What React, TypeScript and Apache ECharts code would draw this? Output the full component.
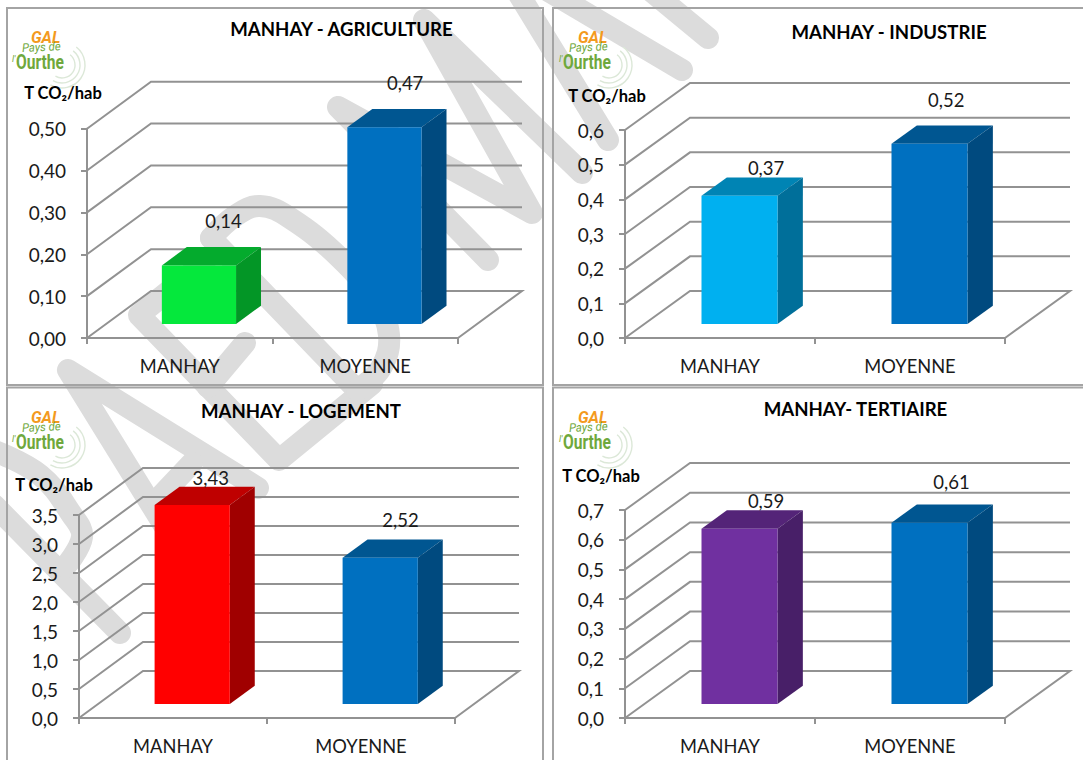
import React, { useEffect, useRef } from "react";
import * as echarts from "echarts";

const FONT = "Lato, Carlito, sans-serif";
const GRID_COLOR = "#929292";
const categories = ["MANHAY", "MOYENNE"];

const agricultureValues = [0.14, 0.47];
const industrieValues = [0.37, 0.52];
const logementValues = [3.43, 2.52];
const tertiaireValues = [0.59, 0.61];

const agricultureTicks = [0, 0.1, 0.2, 0.3, 0.4, 0.5];
const industrieTicks = [0, 0.1, 0.2, 0.3, 0.4, 0.5, 0.6];
const logementTicks = [0, 0.5, 1, 1.5, 2, 2.5, 3, 3.5];
const tertiaireTicks = [0, 0.1, 0.2, 0.3, 0.4, 0.5, 0.6, 0.7];

const titles = ["MANHAY - AGRICULTURE", "MANHAY - INDUSTRIE", "MANHAY - LOGEMENT", "MANHAY- TERTIAIRE"];
const unit = "T CO₂/hab";

const BLUE = { front: "#0070c0", top: "#005691", side: "#004a7f" };
const panels = [
  {
    title: titles[0], values: agricultureValues, ticks: agricultureTicks, interval: 0.1, digits: 2,
    grid: { left: 87, top: 128.7, width: 371, height: 209.3 }, depth: [64, -47],
    titlePos: [341.5, 30], unitPos: [-24, 27],
    colors: [{ front: "#05e83c", top: "#04ab2d", side: "#039626" }, BLUE],
    labelDx: [24.5, 20.7], labelDy: [-44, -44],
  },
  {
    title: titles[1], values: industrieValues, ticks: industrieTicks, interval: 0.1, digits: 1,
    grid: { left: 625, top: 130, width: 380, height: 208 }, depth: [65, -47],
    titlePos: [889, 33], unitPos: [-18, 26],
    colors: [{ front: "#00b0f0", top: "#0084b4", side: "#006f9a" }, BLUE],
    labelDx: [26.6, 16.7], labelDy: [-28, -44],
  },
  {
    title: titles[2], values: logementValues, ticks: logementTicks, interval: 0.5, digits: 1,
    grid: { left: 79, top: 515, width: 376, height: 203 }, depth: [64, -47],
    titlePos: [301, 412], unitPos: [-25, 22],
    colors: [{ front: "#ff0000", top: "#bf0000", side: "#a00000" }, BLUE],
    labelDx: [18.6, 20.3], labelDy: [-27.3, -37.4],
  },
  {
    title: titles[3], values: tertiaireValues, ticks: tertiaireTicks, interval: 0.1, digits: 1,
    grid: { left: 625, top: 510, width: 380, height: 208 }, depth: [65, -47],
    titlePos: [855.5, 410], unitPos: [-24, 26],
    colors: [{ front: "#7030a0", top: "#542478", side: "#481f68" }, BLUE],
    labelDx: [26.6, 22], labelDy: [-27.3, -41],
  },
];

// Watermark strokes
const watermarkStraight = [
  [[488, 260], [338, 107], [532, 213], [424, 20], [582, 173]],
  [[515, -12], [608, 140]],
  [[540, -14], [682, 70]],
  [[645, -14], [708, 38]],
  [[258, 488], [68, 370], [170, 535]],
  [[192, 463], [157, 500]],
  [[205, 262], [139, 315], [279, 460], [372, 384]],
  [[208, 387], [245, 343]],
  [[211, 238], [357, 390]],
  [[-6, 505], [120, 633]],
];
const watermarkCurved = [
  [[211, 238], [235, 216], [260, 206], [290, 218], [340, 258], [375, 300], [389, 335], [381, 368], [357, 390]],
  [[-8, 450], [40, 475], [72, 515], [82, 537], [65, 567]],
];

function logo(ox: number, oy: number) {
  const arcs = [13, 18, 23].map((r) => ({
    type: "arc",
    shape: { cx: 62, cy: 65, r, startAngle: -0.9, endAngle: 2.1, clockwise: true },
    style: { stroke: "#dce8d8", lineWidth: 1.4, fill: "none" },
  }));
  return {
    type: "group", x: ox, y: oy, silent: true,
    children: [
      ...arcs,
      { type: "text", x: 31, y: 37, style: { text: "GAL", fill: "#f39a1e", font: "italic bold 16px Roboto", textVerticalAlign: "middle" } },
      { type: "text", x: 22, y: 48, rotation: 0.05, scaleX: 0.95, style: { text: "Pays de", fill: "#6fa83c", font: "italic 12px Roboto", textVerticalAlign: "middle" } },
      { type: "text", x: 12, y: 59, style: { text: "l'", fill: "#6fa83c", font: "italic 9px Roboto", textVerticalAlign: "middle" } },
      { type: "text", x: 16, y: 62, scaleX: 0.78, style: { text: "Ourthe", fill: "#6fa83c", font: "bold 20px Roboto", textVerticalAlign: "middle" } },
    ],
  };
}

function buildOption() {
  const grid: any[] = [];
  const xAxis: any[] = [];
  const yAxis: any[] = [];
  const series: any[] = [];
  const title: any[] = [];

  panels.forEach((p, k) => {
    const [dx, dy] = p.depth;
    grid.push({ ...p.grid, containLabel: false });
    title.push({
      text: p.title, left: p.titlePos[0], top: p.titlePos[1] - 11, textAlign: "center", padding: 0,
      textStyle: { fontFamily: FONT, fontWeight: "bold", fontSize: 18.6, color: "#000", lineHeight: 20 },
    });
    const axisLine = { show: true, lineStyle: { color: GRID_COLOR, width: 2 } };
    const axisTick = { show: true, length: 6, lineStyle: { color: GRID_COLOR, width: 2 } };
    xAxis.push({
      type: "category", gridIndex: k, data: categories, axisLine, axisTick,
      axisLabel: { margin: 19, fontFamily: FONT, fontSize: 18.3, color: "#1a1a1a" },
      splitLine: { show: false },
    });
    yAxis.push({
      type: "value", gridIndex: k, min: 0, max: p.ticks[p.ticks.length - 1], interval: p.interval,
      axisLine, axisTick, splitLine: { show: false },
      axisLabel: {
        margin: 21, fontFamily: FONT, fontSize: 19, color: "#1a1a1a",
        formatter: (v: number) => v.toFixed(p.digits).replace(".", ","),
      },
      name: unit, nameLocation: "end", nameGap: p.unitPos[1],
      nameTextStyle: {
        fontFamily: FONT, fontWeight: "bold", fontSize: 16.5, color: "#000", align: "center",
        padding: [0, -2 * p.unitPos[0], 0, 0],
      },
    });
    series.push({
      type: "custom", name: p.title + " grille", xAxisIndex: k, yAxisIndex: k, z: 1, silent: true,
      data: p.ticks.map((t) => [0, t]), encode: { x: 0, y: 1 },
      renderItem: (_: any, api: any) => {
        const band = api.size([1, 0])[0];
        const pt = api.coord([0, api.value(1)]);
        const x0 = pt[0] - band / 2;
        const x1 = x0 + 2 * band;
        const pts = [[x0, pt[1]], [x0 + dx, pt[1] + dy], [x1 + dx, pt[1] + dy]];
        if (api.value(1) === 0) pts.push([x1, pt[1]]);
        return { type: "polyline", shape: { points: pts }, style: { stroke: GRID_COLOR, lineWidth: 2, fill: "none" } };
      },
    });
    series.push({
      type: "custom", name: p.title, xAxisIndex: k, yAxisIndex: k, z: 3, silent: true,
      data: p.values.map((v, i) => [i, v]), encode: { x: 0, y: 1 },
      renderItem: (params: any, api: any) => {
        const i = params.dataIndex;
        const v = api.value(1);
        const base = api.coord([i, 0]);
        const top = api.coord([i, v]);
        const band = api.size([1, 0])[0];
        const w = band * 0.4;
        const cx = base[0] + dx * 0.3;
        const yb = base[1] - 14;
        const yt = yb - (base[1] - top[1]);
        const l = cx - w / 2;
        const r = cx + w / 2;
        const ox = dx * 0.39;
        const oy = dy * 0.39;
        const c = p.colors[i];
        return {
          type: "group",
          children: [
            { type: "polygon", shape: { points: [[l, yt], [r, yt], [r + ox, yt + oy], [l + ox, yt + oy]] }, style: { fill: c.top } },
            { type: "polygon", shape: { points: [[r, yt], [r + ox, yt + oy], [r + ox, yb + oy], [r, yb]] }, style: { fill: c.side } },
            { type: "rect", shape: { x: l, y: yt, width: w, height: yb - yt }, style: { fill: c.front } },
            {
              type: "text", z2: 10,
              style: {
                text: v.toFixed(2).replace(".", ","), x: cx + p.labelDx[i], y: yt + p.labelDy[i],
                fill: "#1a1a1a", font: `18.5px ${FONT}`, textAlign: "center", textVerticalAlign: "middle",
              },
            },
          ],
        };
      },
    });
  });

  const wmStyle = { stroke: "#dcdcdc", lineWidth: 22, fill: "none", lineCap: "round", lineJoin: "round" };
  const graphic: any[] = [
    ...watermarkStraight.map((points) => ({ type: "polyline", silent: true, z: 0, shape: { points }, style: wmStyle })),
    ...watermarkCurved.map((points) => ({ type: "polyline", silent: true, z: 0, shape: { points, smooth: 0.4 }, style: wmStyle })),
  ];
  const frame = { stroke: "#a4a4a4", lineWidth: 2, fill: "none" };
  [[7, 8, 536, 377], [553, 8, 540, 377], [7, 387.5, 536, 390], [553, 387.5, 540, 390]].forEach(([x, y, width, height]) => {
    graphic.push({ type: "rect", silent: true, z: 1, shape: { x, y, width, height }, style: frame });
  });
  graphic.push(logo(0, 0), logo(547, 0), logo(0, 380), logo(547, 380));

  return { animation: false, backgroundColor: "#ffffff", title, grid, xAxis, yAxis, series, graphic };
}

export default function App() {
  const ref = useRef<HTMLDivElement>(null);
  useEffect(() => {
    const chart = echarts.init(ref.current!, undefined, { renderer: "svg" });
    chart.setOption(buildOption() as any);
    return () => chart.dispose();
  }, []);
  return <div ref={ref} style={{ position: "fixed", left: 0, top: 0, width: 1083, height: 760 }} />;
}
